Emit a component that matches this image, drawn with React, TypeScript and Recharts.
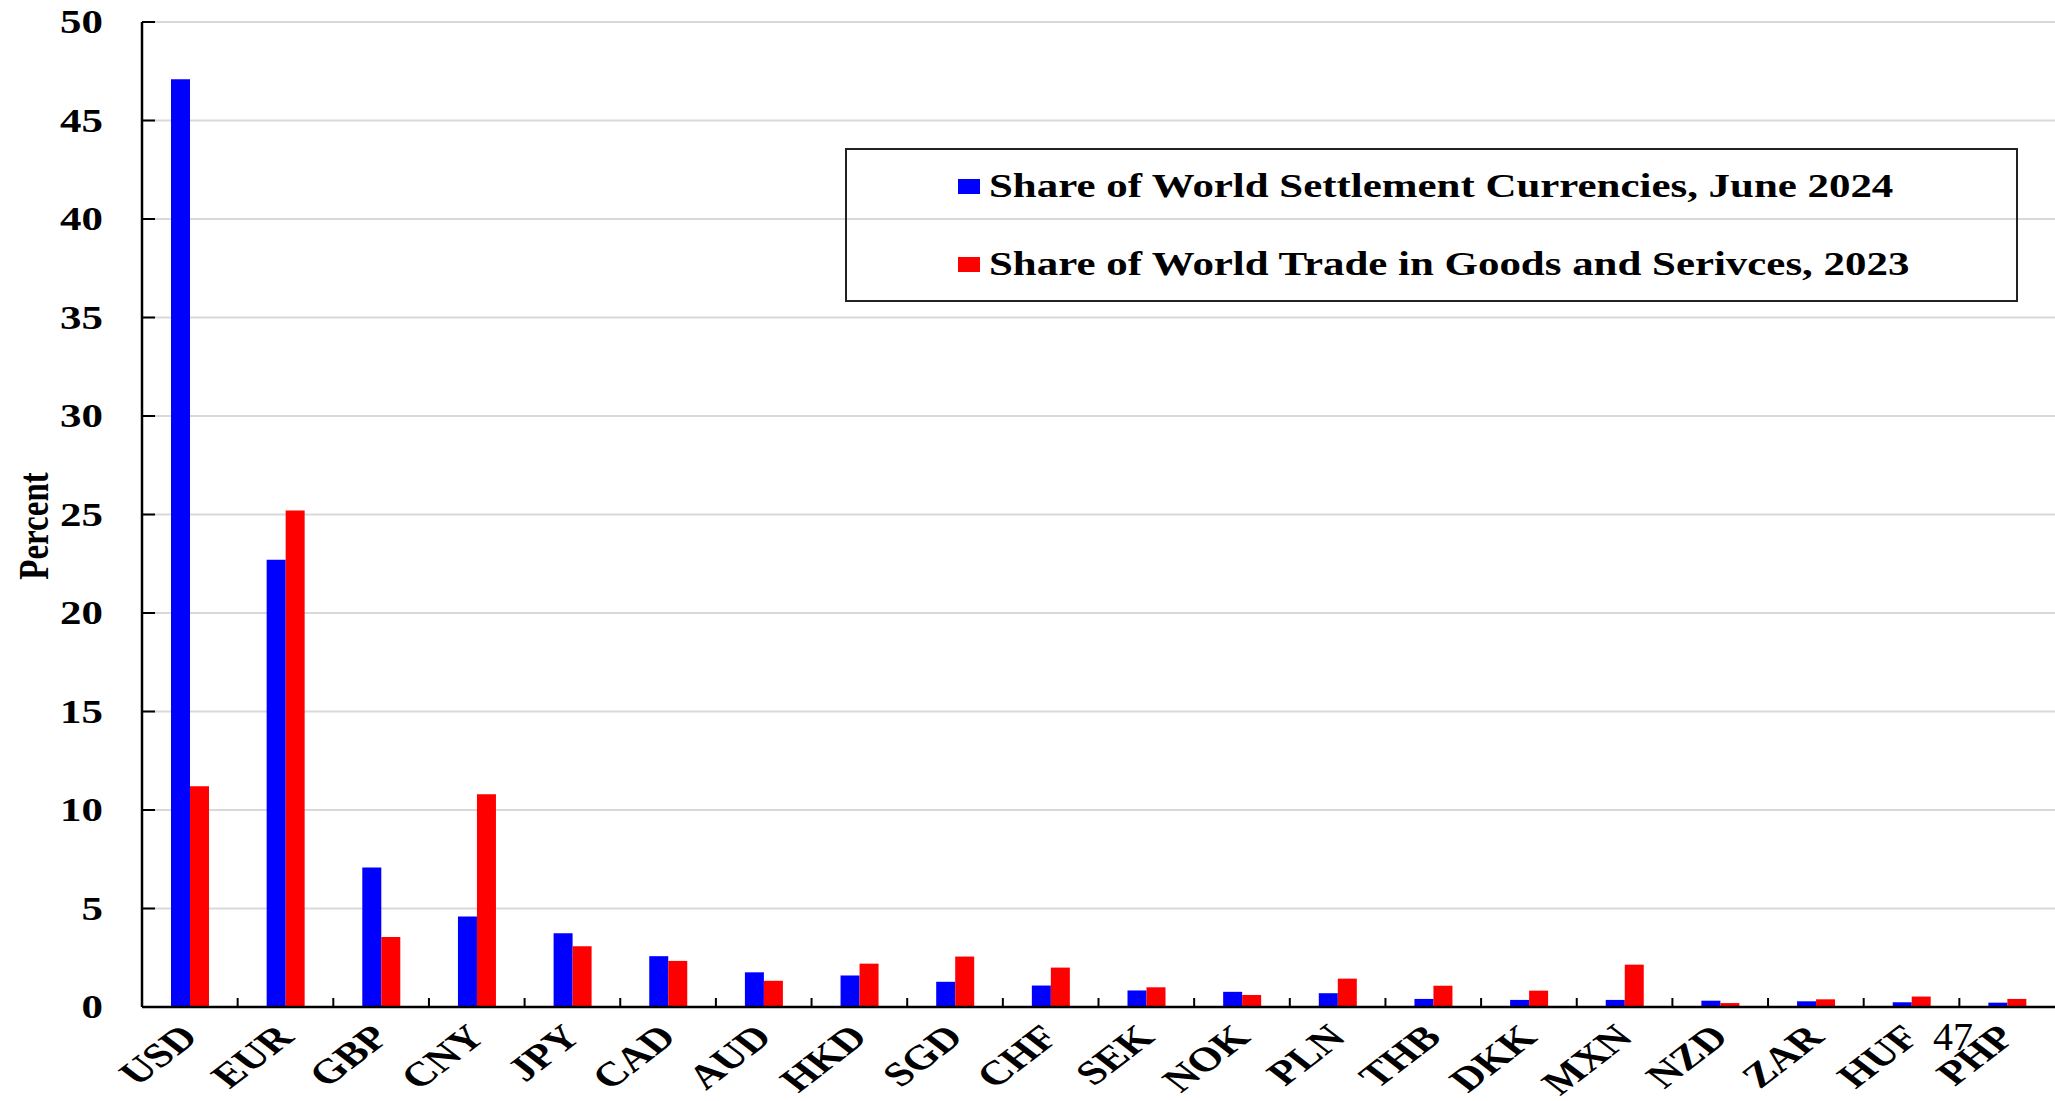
import React from 'react';
import { BarChart, Bar, XAxis, YAxis, CartesianGrid } from 'recharts';

// Currency categories along the x axis
const currencies = [
  'USD', 'EUR', 'GBP', 'CNY', 'JPY', 'CAD', 'AUD', 'HKD', 'SGD', 'CHF',
  'SEK', 'NOK', 'PLN', 'THB', 'DKK', 'MXN', 'NZD', 'ZAR', 'HUF', 'PHP',
];

// Share of world settlement currencies, June 2024 (percent)
const settlementShare = [
  47.1, 22.7, 7.08, 4.59, 3.74, 2.58, 1.76, 1.6, 1.28, 1.09,
  0.84, 0.77, 0.7, 0.41, 0.36, 0.36, 0.32, 0.29, 0.24, 0.22,
];

// Share of world trade in goods and services, 2023 (percent)
const tradeShare = [
  11.2, 25.2, 3.55, 10.8, 3.09, 2.34, 1.33, 2.2, 2.56, 2.0,
  1.0, 0.61, 1.44, 1.08, 0.83, 2.15, 0.2, 0.39, 0.53, 0.41,
];

const seriesNames = [
  'Share of World Settlement Currencies, June 2024',
  'Share of World Trade in Goods and Serivces, 2023',
];
const seriesColors = ['#0000ff', '#ff0000'];

const yTicks = [0, 5, 10, 15, 20, 25, 30, 35, 40, 45, 50];
const yAxisTitle = 'Percent';
const pageNumber = '47';

const data = currencies.map((c, i) => ({
  currency: c,
  settlement: settlementShare[i],
  trade: tradeShare[i],
}));

const FONT = "'Liberation Serif', 'Times New Roman', serif";
const WIDTH = 2055;
const HEIGHT = 1101;
const MARGIN = { top: 22, right: 0, bottom: 0, left: 0 };
const Y_AXIS_W = 142;
const X_AXIS_H = 94;
const X_LABEL_GAP = 32;
const PLOT_W = WIDTH - Y_AXIS_W - MARGIN.right;
const BAND = PLOT_W / currencies.length;
const STRETCH = 1.3;

// Category label, rotated and widened, plus an inward tick at the band boundary
const XTick = (props: any) => {
  const { x, y, payload, index } = props;
  const axisY = y - X_LABEL_GAP;
  return (
    <g>
      {index < currencies.length - 1 && (
        <line
          x1={x + BAND / 2}
          x2={x + BAND / 2}
          y1={axisY - 9}
          y2={axisY}
          stroke="#000"
          strokeWidth={2}
        />
      )}
      <text
        transform={`translate(${x + 10},${y}) scale(${STRETCH},1) rotate(-45)`}
        textAnchor="end"
        fontFamily={FONT}
        fontWeight="bold"
        fontSize={34}
        fill="#000"
      >
        {payload.value}
      </text>
    </g>
  );
};

const YTick = (props: any) => {
  const { x, y, payload } = props;
  const axisX = x + 39;
  return (
    <g>
      <line x1={axisX} x2={axisX + 13} y1={y} y2={y} stroke="#000" strokeWidth={2} />
      <text
        transform={`translate(${x},${y}) scale(${STRETCH},1)`}
        textAnchor="end"
        dominantBaseline="central"
        fontFamily={FONT}
        fontWeight="bold"
        fontSize={33}
        fill="#000"
      >
        {payload.value}
      </text>
    </g>
  );
};

const PercentLabel = () => (
  <text
    transform={`translate(33,526) scale(${STRETCH},1) rotate(-90)`}
    textAnchor="middle"
    dominantBaseline="central"
    fontFamily={FONT}
    fontWeight="bold"
    fontSize={33}
    fill="#000"
  >
    {yAxisTitle}
  </text>
);

const LegendBox = () => (
  <svg width={1173} height={154} style={{ display: 'block' }}>
    <rect x={1} y={1} width={1171} height={152} fill="none" stroke="#222" strokeWidth={2} />
    {seriesNames.map((name, i) => (
      <g key={name}>
        <rect x={113} y={31 + i * 78} width={22} height={15} fill={seriesColors[i]} />
        <text
          transform={`translate(144,${49 + i * 78}) scale(${STRETCH},1)`}
          fontFamily={FONT}
          fontWeight="bold"
          fontSize={33}
          fill="#000"
        >
          {name}
        </text>
      </g>
    ))}
  </svg>
);

export default function App() {
  return (
    <div style={{ position: 'absolute', left: 0, top: 0, width: WIDTH, height: HEIGHT, background: '#fff' }}>
      <BarChart
        width={WIDTH}
        height={HEIGHT}
        data={data}
        margin={MARGIN}
        barSize={19}
        barGap={0}
      >
        <CartesianGrid horizontal vertical={false} stroke="#d9d9d9" strokeWidth={2} />
        <XAxis
          dataKey="currency"
          height={X_AXIS_H}
          interval={0}
          tickLine={false}
          tickSize={0}
          tickMargin={X_LABEL_GAP}
          axisLine={{ stroke: '#000', strokeWidth: 2.5 }}
          tick={<XTick />}
        />
        <YAxis
          width={Y_AXIS_W}
          domain={[0, 50]}
          ticks={yTicks}
          interval={0}
          tickLine={false}
          tickSize={0}
          tickMargin={39}
          axisLine={{ stroke: '#000', strokeWidth: 2.5 }}
          tick={<YTick />}
          label={PercentLabel}
        />
        <Bar dataKey="settlement" name={seriesNames[0]} fill={seriesColors[0]} isAnimationActive={false} />
        <Bar dataKey="trade" name={seriesNames[1]} fill={seriesColors[1]} isAnimationActive={false} />
      </BarChart>
      <div style={{ position: 'absolute', left: 845, top: 148 }}>
        <LegendBox />
      </div>
      <div
        style={{
          position: 'absolute',
          left: 1933,
          top: 1017,
          fontFamily: FONT,
          fontSize: 40,
          lineHeight: '40px',
          color: '#000',
        }}
      >
        {pageNumber}
      </div>
    </div>
  );
}
